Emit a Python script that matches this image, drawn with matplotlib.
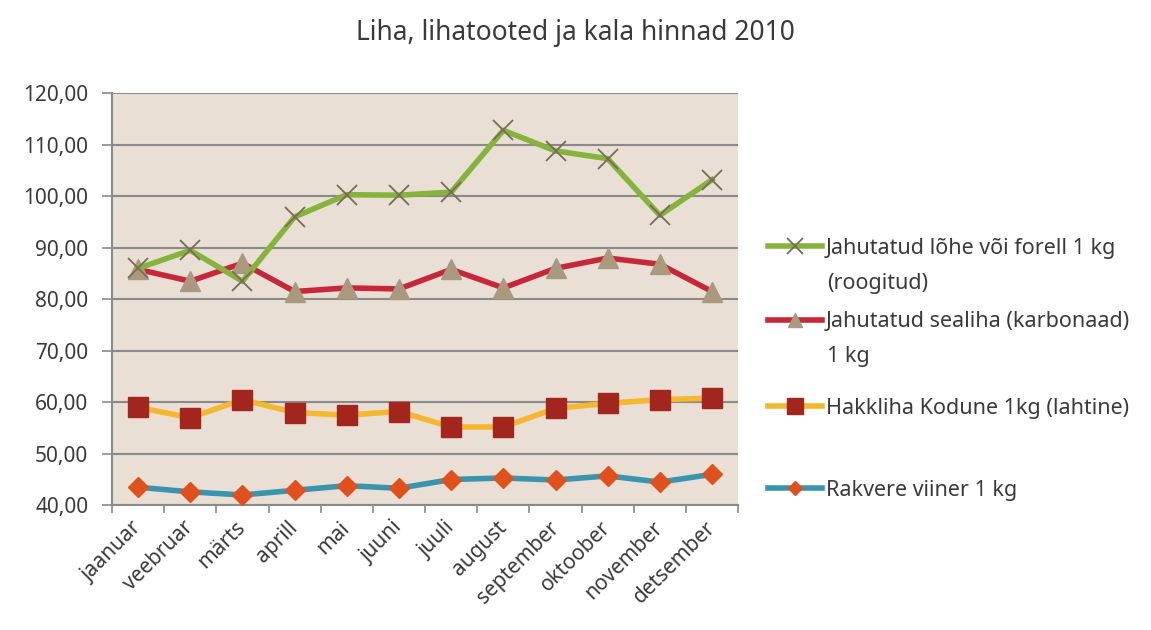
import matplotlib
matplotlib.use("Agg")
import matplotlib.pyplot as plt
from matplotlib.ticker import FixedLocator, FuncFormatter

plt.rcParams['font.family'] = ['Noto Sans', 'DejaVu Sans']
plt.rcParams['text.color'] = '#3a3a3a'

months = ['jaanuar', 'veebruar', 'märts', 'aprill', 'mai', 'juuni',
          'juuli', 'august', 'september', 'oktoober', 'november', 'detsember']

lohe = [86.0, 89.5, 83.5, 96.0, 100.3, 100.2, 100.8, 112.8, 108.8, 107.3, 96.3, 103.2]
sealiha = [85.8, 83.5, 87.0, 81.5, 82.2, 82.0, 85.8, 82.2, 86.0, 88.0, 86.8, 81.5]
hakkliha = [59.0, 57.0, 60.5, 58.0, 57.5, 58.2, 55.2, 55.2, 58.8, 59.8, 60.5, 60.8]
viiner = [43.5, 42.6, 42.0, 42.9, 43.8, 43.3, 45.0, 45.3, 44.9, 45.7, 44.5, 46.0]

labels = [('Jahutatud lõhe või forell 1 kg', '(roogitud)'),
          ('Jahutatud sealiha (karbonaad)', '1 kg'),
          ('Hakkliha Kodune 1kg (lahtine)', None),
          ('Rakvere viiner 1 kg', None)]

fig = plt.figure(figsize=(11.51, 6.30), dpi=100)
ax = fig.add_axes([0.0973, 0.198, 0.544, 0.654])
ax.set_facecolor('#e9dfd4')

x = list(range(len(months)))
l1, = ax.plot(x, lohe, color='#86b33a', lw=4, marker='x', ms=15, mew=1.3,
              mec='#7a6a5a', zorder=5)
l2, = ax.plot(x, sealiha, color='#c6283a', lw=4, marker='^', ms=14,
              mfc='#a99a7f', mec='#a99a7f', zorder=4)
l3, = ax.plot(x, hakkliha, color='#f4b830', lw=4, marker='s', ms=15,
              mfc='#a2261d', mec='#a2261d', zorder=4)
l4, = ax.plot(x, viiner, color='#3a94ae', lw=4, marker='D', ms=10,
              mfc='#e0501c', mec='#e0501c', zorder=4)

ax.set_ylim(40, 120)
ax.set_xlim(-0.5, 11.5)
ax.set_yticks(range(40, 121, 10))
ax.yaxis.set_major_formatter(FuncFormatter(lambda v, p: f'{v:.2f}'.replace('.', ',')))
ax.grid(axis='y', color='#8a8a8a', lw=1.5)
ax.set_axisbelow(True)

ax.set_xticks(x)
ax.set_xticklabels(months, rotation=45, ha='right', va='center',
                   rotation_mode='anchor', fontsize=15, color='#3a3a3a')
ax.tick_params(axis='x', which='major', length=0, pad=14)
ax.xaxis.set_minor_locator(FixedLocator([i - 0.5 for i in range(13)]))
ax.tick_params(axis='x', which='minor', length=6, color='#8a8a8a', width=1.2)
ax.tick_params(axis='y', length=7, color='#8a8a8a', width=1.2, labelsize=15,
               pad=10, labelcolor='#3a3a3a')

for s in ['top', 'right']:
    ax.spines[s].set_visible(False)
for s in ['left', 'bottom']:
    ax.spines[s].set_color('#8a8a8a')
    ax.spines[s].set_linewidth(1.5)

fig.suptitle('Liha, lihatooted ja kala hinnad 2010', y=0.97, fontsize=19,
             color='#3a3a3a')

legend_y = [0.606, 0.489, 0.352, 0.222]
for line, (first, second), yy in zip([l1, l2, l3, l4], labels, legend_y):
    fig.legend(handles=[line], labels=[first], loc='center left',
               bbox_to_anchor=(0.667, yy), frameon=False, fontsize=15.5,
               handlelength=2.5, handletextpad=0.2, borderaxespad=0,
               borderpad=0, markerscale=0.75)
    if second:
        fig.text(0.7185, yy - 0.0556, second, fontsize=15.5, va='center', ha='left')

fig.savefig('out.png', dpi=100)
